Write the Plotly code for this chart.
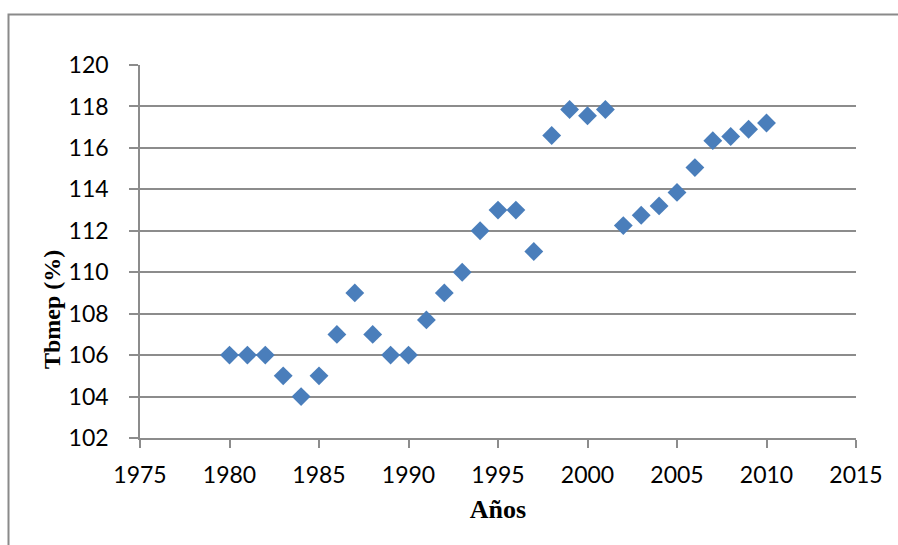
import plotly.graph_objects as go

years = list(range(1980, 2011))
tbmep = [106, 106, 106, 105, 104, 105, 107, 109, 107, 106, 106,
         107.7, 109, 110, 112, 113, 113, 111, 116.6, 117.85, 117.55,
         117.85, 112.25, 112.75, 113.2, 113.85, 115.05, 116.35, 116.55,
         116.9, 117.2]

x_ticks = [1975, 1980, 1985, 1990, 1995, 2000, 2005, 2010, 2015]
y_ticks = [102, 104, 106, 108, 110, 112, 114, 116, 118, 120]

grid = "#8c8c8c"
W, H = 898, 545
L, R, T, B = 140, 42, 65, 107

fig = go.Figure(go.Scatter(
    x=years, y=tbmep, mode="markers",
    marker=dict(symbol="diamond", size=14.5, color="#4a7ebb",
                line=dict(width=0)),
    showlegend=False))

pw, ph = W - L - R, H - T - B
def px(xp): return (xp - L) / pw
def py(yp): return (H - B - yp) / ph

fig.add_shape(type="rect", xref="paper", yref="paper",
              x0=px(8.5), x1=px(899), y0=py(14.5), y1=py(560),
              line=dict(color="#8a8a8a", width=2), layer="below")

fig.add_annotation(text="<b>Tbmep (%)</b>", xref="paper", yref="paper",
                   x=px(52), y=py(310), xanchor="center", yanchor="middle",
                   textangle=-90, showarrow=False,
                   font=dict(family="Liberation Serif", size=24, color="black"))

fig.update_layout(
    width=W, height=H, margin=dict(l=L, r=R, t=T, b=B),
    paper_bgcolor="white", plot_bgcolor="white",
    xaxis=dict(range=[1975, 2015], tickvals=x_ticks, showgrid=False,
               showline=True, linecolor=grid, linewidth=1.5,
               ticks="outside", ticklen=8, tickcolor=grid, tickwidth=1.5,
               ticklabelstandoff=8,
               tickfont=dict(family="Lato", size=23, color="black"),
               title=dict(text="<b>Años</b>", standoff=12,
                          font=dict(family="Liberation Serif", size=26, color="black")),
               zeroline=False),
    yaxis=dict(range=[102, 120], tickvals=y_ticks, showgrid=True,
               gridcolor=grid, gridwidth=1.5,
               showline=True, linecolor=grid, linewidth=1.5,
               ticks="outside", ticklen=9, tickcolor=grid, tickwidth=1.5,
               ticklabelstandoff=16,
               tickfont=dict(family="Lato", size=23, color="black"),
               zeroline=False),
)

fig.write_html("out.html")
